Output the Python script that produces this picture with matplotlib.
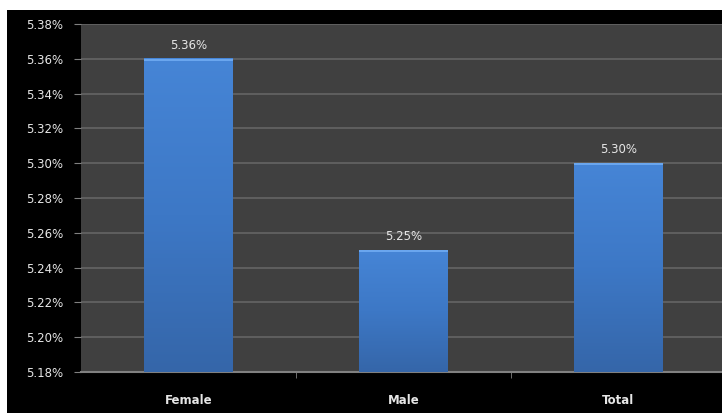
import matplotlib
matplotlib.use("Agg")
import matplotlib.pyplot as plt
import numpy as np
from matplotlib.patches import Rectangle
from matplotlib.colors import LinearSegmentedColormap
from matplotlib.ticker import FixedLocator

categories = ["Female", "Male", "Total"]
values = [5.36, 5.25, 5.30]
yticks = [5.18, 5.20, 5.22, 5.24, 5.26, 5.28, 5.30, 5.32, 5.34, 5.36, 5.38]

TXT = "#e6e6e6"
plt.rcParams.update({"font.family": "DejaVu Sans", "font.size": 8.5})

fig = plt.figure(figsize=(7.22, 4.15), dpi=100, facecolor="white")
bg = Rectangle((7 / 722, 2 / 415), 1.0, 403 / 415, transform=fig.transFigure,
               facecolor="black", edgecolor="none", zorder=-10)
fig.add_artist(bg)
ax = fig.add_axes([81 / 722, 43 / 415, 645 / 722, 348 / 415])
ax.set_zorder(1)
ax.set_facecolor("#404040")

x = np.arange(len(categories))
bars = ax.bar(x, values, width=0.41, color="#3f7bc9", zorder=2)

# vertical gradient on each bar
cmap = LinearSegmentedColormap.from_list("b", ["#3566a9", "#3d78c6", "#4685d6"])
grad = np.linspace(0, 1, 256).reshape(-1, 1)
for b in bars:
    x0, w, h = b.get_x(), b.get_width(), b.get_height()
    ax.imshow(grad, cmap=cmap, aspect="auto", origin="lower", zorder=3,
              extent=(x0, x0 + w, yticks[0], h), interpolation="bilinear")
    ax.add_patch(Rectangle((x0, h - 0.0012), w, 0.0012, facecolor="#6aa6ee",
                           edgecolor="none", zorder=4))
    ax.text(x0 + w / 2, h + 0.004, f"{h:.2f}%", ha="center", va="bottom",
            color=TXT, fontsize=8.5, zorder=5)

ax.set_xlim(-0.5, len(categories) - 0.5)
ax.set_ylim(yticks[0], yticks[-1])
ax.set_yticks(yticks)
ax.set_yticklabels([f"{v:.2f}%" for v in yticks], color=TXT)
ax.yaxis.grid(True, color="#686868", lw=1.1, zorder=1)
ax.set_axisbelow(True)
ax.set_xticks(x)
ax.set_xticklabels(categories, color=TXT, fontweight="bold")
ax.xaxis.set_minor_locator(FixedLocator([0.5, 1.5]))
ax.tick_params(axis="x", which="major", length=0, pad=16)
ax.tick_params(axis="x", which="minor", length=4, color="#808080", direction="out")
ax.tick_params(axis="y", length=5, color="#808080", pad=8)
for s in ("top", "right"):
    ax.spines[s].set_visible(False)
ax.spines["left"].set_visible(False)
ax.spines["bottom"].set_color("#808080")
ax.spines["bottom"].set_linewidth(1.5)

fig.savefig("out.png", dpi=100, facecolor="white")
